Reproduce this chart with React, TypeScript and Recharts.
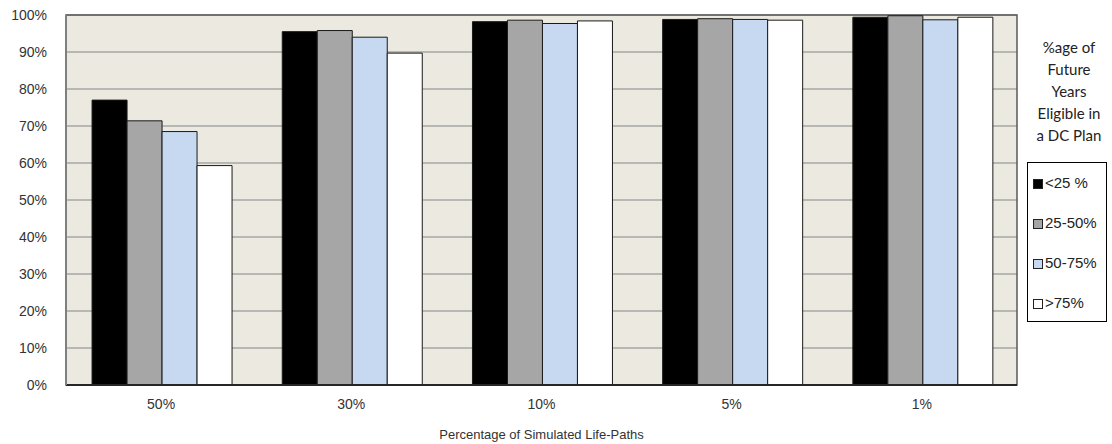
import React from "react"
import {
    BarChart,
    Bar,
    XAxis,
    YAxis,
    CartesianGrid,
    ReferenceArea,
} from "recharts"

const categories = ["50%", "30%", "10%", "5%", "1%"]

const under25 = [77.0, 95.5, 98.2, 98.8, 99.4]
const from25to50 = [71.4, 95.8, 98.6, 99.0, 99.8]
const from50to75 = [68.5, 94.0, 97.7, 98.8, 98.7]
const over75 = [59.3, 89.7, 98.4, 98.6, 99.4]

const yTicks = [0, 10, 20, 30, 40, 50, 60, 70, 80, 90, 100]

const seriesList = [
    { key: "a", name: "<25 %", values: under25, fill: "#000000" },
    { key: "b", name: "25-50%", values: from25to50, fill: "#A6A6A6" },
    { key: "c", name: "50-75%", values: from50to75, fill: "#C6D9F1" },
    { key: "d", name: ">75%", values: over75, fill: "#FFFFFF" },
]

const legendTitle = ["%age of", "Future", "Years", "Eligible in", "a DC Plan"]

const data = categories.map((name, i) => {
    const row: Record<string, string | number> = { name }
    seriesList.forEach((s) => {
        row[s.key] = s.values[i]
    })
    return row
})

const axisFont = "'Liberation Sans', Arial, sans-serif"

// legend sits to the right of the plot, outside the chart's layout
function LegendBlock() {
    return (
        <div style={{ position: "absolute", left: 1022, top: 36, width: 90, fontFamily: axisFont }}>
            <div
                style={{
                    fontFamily: "Lato, 'Open Sans', sans-serif",
                    fontSize: 15,
                    lineHeight: "22px",
                    color: "#222",
                    textAlign: "center",
                    marginLeft: 4,
                }}
            >
                {legendTitle.map((t) => (
                    <div key={t}>{t}</div>
                ))}
            </div>
            <div
                style={{
                    marginTop: 16,
                    marginLeft: 5,
                    width: 80,
                    height: 160,
                    border: "1px solid #000",
                    background: "#fff",
                    boxSizing: "border-box",
                    paddingTop: 11,
                }}
            >
                {seriesList.map((s) => (
                    <div
                        key={s.key}
                        style={{
                            height: 40,
                            display: "flex",
                            alignItems: "flex-start",
                            fontSize: 15,
                            color: "#222",
                            lineHeight: "18px",
                        }}
                    >
                        <span
                            style={{
                                display: "inline-block",
                                width: 8,
                                height: 8,
                                background: s.fill,
                                border: "1px solid #222",
                                marginLeft: 5,
                                marginRight: 2,
                                marginTop: 5,
                            }}
                        />
                        {s.name}
                    </div>
                ))}
            </div>
        </div>
    )
}

export default function App() {
    return (
        <div style={{ position: "absolute", left: 0, top: 0, width: 1112, height: 444, background: "#fff" }}>
            <BarChart
                width={1112}
                height={444}
                data={data}
                margin={{ top: 15, right: 95, left: 0, bottom: 0 }}
                barCategoryGap="13.7%"
                barGap={0}
            >
                <CartesianGrid
                    vertical={false}
                    stroke="#A6A6A6"
                    strokeWidth={1.5}
                    fill="#ECE9E0"
                    fillOpacity={1}
                />
                <XAxis
                    dataKey="name"
                    height={59}
                    axisLine={{ stroke: "#262626", strokeWidth: 2 }}
                    tickLine={false}
                    tickSize={0}
                    tickMargin={14}
                    tick={{ fill: "#333", fontSize: 14, fontFamily: axisFont }}
                    label={{
                        value: "Percentage of Simulated Life-Paths",
                        position: "insideBottom",
                        offset: 5,
                        fill: "#333",
                        fontSize: 13,
                        fontFamily: axisFont,
                    }}
                />
                <YAxis
                    width={66}
                    domain={[0, 100]}
                    ticks={yTicks}
                    interval={0}
                    tickFormatter={(v: number) => `${v}%`}
                    axisLine={{ stroke: "#7F7F7F", strokeWidth: 2 }}
                    tickLine={false}
                    tickSize={0}
                    tickMargin={19}
                    tick={{ fill: "#333", fontSize: 14, fontFamily: axisFont }}
                />
                {seriesList.map((s) => (
                    <Bar
                        key={s.key}
                        dataKey={s.key}
                        name={s.name}
                        fill={s.fill}
                        stroke="#1A1A1A"
                        strokeWidth={1}
                        isAnimationActive={false}
                    />
                ))}
                <ReferenceArea
                    y1={0}
                    y2={100}
                    fill="none"
                    stroke="#595959"
                    strokeWidth={1.5}
                    ifOverflow="visible"
                />
            </BarChart>
            <LegendBlock />
        </div>
    )
}
